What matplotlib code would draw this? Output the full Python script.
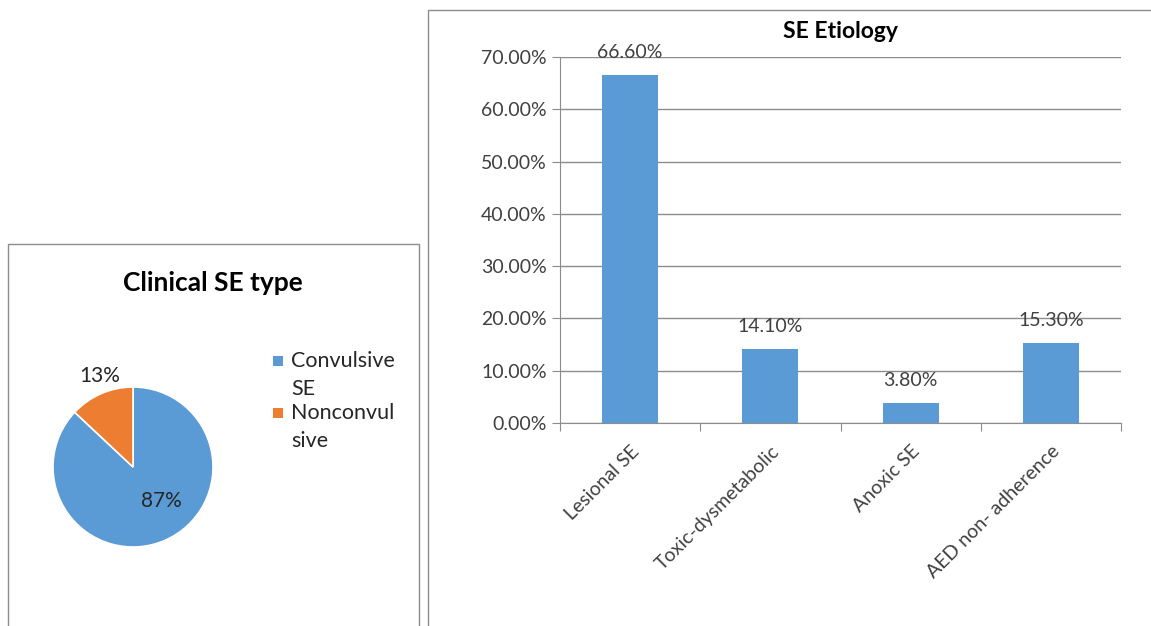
import matplotlib.pyplot as plt
from matplotlib.patches import Rectangle
from matplotlib.ticker import FuncFormatter, MultipleLocator

plt.rcParams['font.family'] = ['Lato', 'DejaVu Sans']

# pie: clinical type
pie_labels = ['Convulsive\nSE', 'Nonconvul\nsive']
pie_values = [87, 13]
pie_colors = ['#5B9BD5', '#ED7D31']

# bars: etiology
causes = ['Lesional SE', 'Toxic-dysmetabolic', 'Anoxic SE', 'AED non- adherence']
cause_pct = [66.6, 14.1, 3.8, 15.3]
bar_color = '#5B9BD5'

W, H = 1151, 626
fig = plt.figure(figsize=(W / 100, H / 100), dpi=100)

def fx(px):
    return px / W

def fy(py):
    return 1 - py / H

# panel frames
for x0, y0, x1, y1 in [(8, 244, 419, 640), (428, 10, 1160, 640)]:
    fig.patches.append(Rectangle((fx(x0), fy(y1)), fx(x1 - x0), (y1 - y0) / H,
                                 transform=fig.transFigure, fill=False,
                                 edgecolor='#8c8c8c', linewidth=1.0))

# ---- pie ----
cx, cy, r = 133, 467, 80
ax1 = fig.add_axes([fx(cx - r), fy(cy + r), fx(2 * r), 2 * r / H])
wedges, _ = ax1.pie(pie_values, colors=pie_colors, startangle=90, counterclock=False,
                    wedgeprops=dict(edgecolor='white', linewidth=1.2))
ax1.set_aspect('equal')
ax1.set_xlim(-1, 1)
ax1.set_ylim(-1, 1)
ax1.text(0.36, -0.43, f'{pie_values[0]}%', ha='center', va='center', fontsize=15, color='#262626')
ax1.text(-0.41, 1.14, f'{pie_values[1]}%', ha='center', va='center', fontsize=15, color='#262626',
         clip_on=False)
fig.text(fx(213), fy(283), 'Clinical SE type', ha='center', va='center',
         fontsize=19, fontweight='bold', color='black')

# legend: square aligned with the first line of each wrapped label
for i, (lab, col) in enumerate(zip(pie_labels, pie_colors)):
    top = 361 + i * 52
    fig.patches.append(Rectangle((fx(273), fy(top + 5)), fx(10), 10 / H,
                                 transform=fig.transFigure, facecolor=col, edgecolor='none'))
    fig.text(fx(291), fy(top + 14), lab, ha='left', va='center', fontsize=15.5,
             color='#262626', linespacing=1.5)

# ---- bars ----
ax2 = fig.add_axes([fx(560), fy(423), fx(1121 - 560), (423 - 57) / H])
xpos = range(len(causes))
vals = [v / 100 for v in cause_pct]
ax2.bar(xpos, vals, width=0.4, color=bar_color, zorder=3)
for x, v, p in zip(xpos, vals, cause_pct):
    ax2.annotate(f'{p:.2f}%', (x, v), xytext=(0, 10), textcoords='offset points',
                 ha='center', va='bottom', fontsize=14, color='#404040')
ax2.set_xlim(-0.5, len(causes) - 0.5)
ax2.set_ylim(0, 0.7)
ax2.yaxis.set_major_locator(MultipleLocator(0.1))
ax2.yaxis.set_major_formatter(FuncFormatter(lambda v, _: f'{v * 100:.2f}%'))
ax2.grid(axis='y', color='#8c8c8c', linewidth=1.0, zorder=0)
ax2.set_xticks([i - 0.5 for i in range(len(causes) + 1)], minor=False)
ax2.set_xticklabels([])
ax2.set_xticks(list(xpos), minor=True)
ax2.set_xticklabels(causes, minor=True, rotation=45, ha='right', rotation_mode='anchor',
                    fontsize=14, color='#404040')
ax2.tick_params(axis='x', which='minor', length=0, pad=14)
ax2.tick_params(axis='x', which='major', length=6, color='#8c8c8c')
ax2.tick_params(axis='y', length=6, color='#8c8c8c', labelsize=14, labelcolor='#404040')
for s in ['top', 'right']:
    ax2.spines[s].set_visible(False)
for s in ['left', 'bottom']:
    ax2.spines[s].set_color('#8c8c8c')
ax2.set_title('SE Etiology', fontsize=16.5, fontweight='bold', pad=14)

fig.savefig('out.png', dpi=100)
